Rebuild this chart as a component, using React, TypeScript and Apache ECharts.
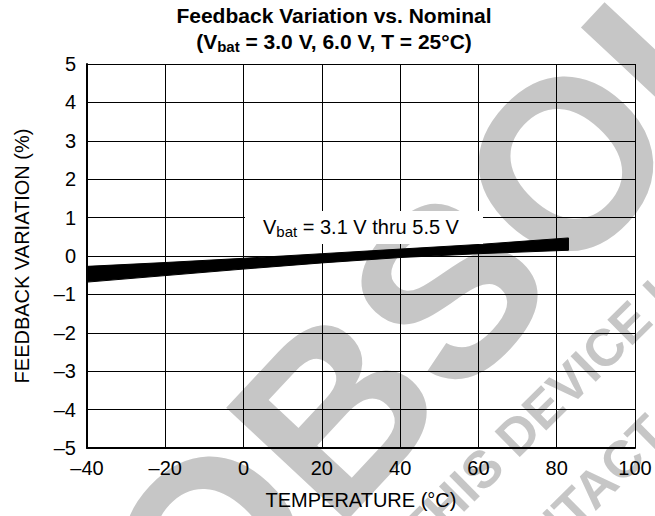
import React, { useEffect, useRef } from "react";
import * as echarts from "echarts";

const temperatures = [-40, -20, 0, 20, 40, 60, 83];
const upperEdge = [-0.27, -0.17, -0.06, 0.06, 0.18, 0.3, 0.47];
const lowerEdge = [-0.68, -0.51, -0.34, -0.18, -0.04, 0.06, 0.15];
const xMin = -40;
const xMax = 100;
const xStep = 20;
const yMin = -5;
const yMax = 5;
const yStep = 1;

const titleLine1 = "Feedback Variation vs. Nominal";
const titleLine2 = ["(V", "bat", " = 3.0 V, 6.0 V, T = 25°C)"];
const curveLabel = ["V", "bat", " = 3.1 V thru 5.5 V"];
const xName = "TEMPERATURE (°C)";
const yName = "FEEDBACK VARIATION (%)";
const watermark = "OBSOLETE";
const watermarkLine1 = "THIS DEVICE IS NOT RECOMMENDED";
const watermarkLine2 = "CONTACT YOUR REPRESENTATIVE";

const FONT = "'Liberation Sans', Arial, Helvetica, sans-serif";
const dash = (v: number) => String(v).replace("-", "\u2013");

export default function App() {
  const ref = useRef<HTMLDivElement>(null);
  useEffect(() => {
    document.body.style.margin = "0";
    if (!ref.current) return;
    const chart = echarts.init(ref.current, undefined, { renderer: "svg" });
    const bandData = temperatures.map((t, i) => [t, upperEdge[i], lowerEdge[i]]);
    chart.setOption({
      animation: false,
      backgroundColor: "#fff",
      textStyle: { fontFamily: FONT },
      title: {
        left: 334,
        textAlign: "center",
        top: 2,
        padding: 0,
        text:
          "{t|" + titleLine1 + "}\n{t|" + titleLine2[0] + "}{ts|" + titleLine2[1] + "}{t|" + titleLine2[2] + "}",
        textStyle: {
          rich: {
            t: { fontSize: 21, fontWeight: "bold", color: "#000", fontFamily: FONT, lineHeight: 26 },
            ts: { fontSize: 15, fontWeight: "bold", color: "#000", fontFamily: FONT, lineHeight: 14, verticalAlign: "bottom" },
          },
        },
      },
      grid: { left: 87, right: 20, top: 64, bottom: 68, containLabel: false },
      xAxis: {
        type: "value",
        min: xMin,
        max: xMax,
        interval: xStep,
        name: xName,
        nameLocation: "middle",
        nameGap: 42,
        nameTextStyle: { fontSize: 20, color: "#000", fontFamily: FONT },
        axisLine: { show: true, onZero: false, lineStyle: { color: "#000", width: 2 } },
        axisTick: { show: false },
        axisLabel: { fontSize: 20, color: "#000", margin: 10, formatter: (v: number) => dash(v), fontFamily: FONT },
        splitLine: { show: true, lineStyle: { color: "#000", width: 1 } },
      },
      yAxis: {
        type: "value",
        min: yMin,
        max: yMax,
        interval: yStep,
        name: yName,
        nameLocation: "middle",
        nameGap: 55,
        nameTextStyle: { fontSize: 20, color: "#000", fontFamily: FONT },
        axisLine: { show: true, onZero: false, lineStyle: { color: "#000", width: 2 } },
        axisTick: { show: false },
        axisLabel: { fontSize: 20, color: "#000", margin: 11, formatter: (v: number) => dash(v), fontFamily: FONT },
        splitLine: { show: true, lineStyle: { color: "#000", width: 1 } },
      },
      graphic: [
        {
          type: "text",
          z: -10,
          x: 148,
          y: 612,
          rotation: 0.82,
          style: {
            text: watermark,
            fontSize: 240,
            fontWeight: "bold",
            fontFamily: FONT,
            fill: "#c6c6c6",
            textAlign: "left",
            textVerticalAlign: "middle",
          },
        },
        {
          type: "text",
          z: -10,
          x: 410,
          y: 540,
          rotation: 0.78,
          style: {
            text: watermarkLine1,
            fontSize: 52,
            fontWeight: "bold",
            fontFamily: FONT,
            fill: "#c6c6c6",
            textAlign: "left",
            textVerticalAlign: "middle",
          },
        },
        {
          type: "text",
          z: -10,
          x: 480,
          y: 600,
          rotation: 0.78,
          style: {
            text: watermarkLine2,
            fontSize: 52,
            fontWeight: "bold",
            fontFamily: FONT,
            fill: "#c6c6c6",
            textAlign: "left",
            textVerticalAlign: "middle",
          },
        },
        {
          type: "rect",
          z: 100,
          shape: { x: 245, y: 211, width: 238, height: 33 },
          style: { fill: "#fff" },
        },
        {
          type: "text",
          z: 101,
          x: 263,
          y: 227,
          style: {
            text: "{m|" + curveLabel[0] + "}{s|" + curveLabel[1] + "}{m|" + curveLabel[2] + "}",
            textVerticalAlign: "middle",
            rich: {
              m: { fontSize: 20, fill: "#000", fontFamily: FONT, lineHeight: 24 },
              s: { fontSize: 15, fill: "#000", fontFamily: FONT, lineHeight: 13, verticalAlign: "bottom" },
            },
          },
        },
      ],
      series: [
        {
          type: "custom",
          data: bandData,
          z: 5,
          renderItem: (params: any, api: any) => {
            if (params.dataIndex !== 0) return null;
            const top = temperatures.map((t, i) => api.coord([t, upperEdge[i]]));
            const bottom = temperatures.map((t, i) => api.coord([t, lowerEdge[i]])).reverse();
            return {
              type: "polygon",
              shape: { points: top.concat(bottom) },
              style: { fill: "#000", stroke: "#000", lineWidth: 1 },
            };
          },
        },
      ],
    });
    return () => chart.dispose();
  }, []);
  return <div ref={ref} style={{ width: 655, height: 516 }} />;
}
